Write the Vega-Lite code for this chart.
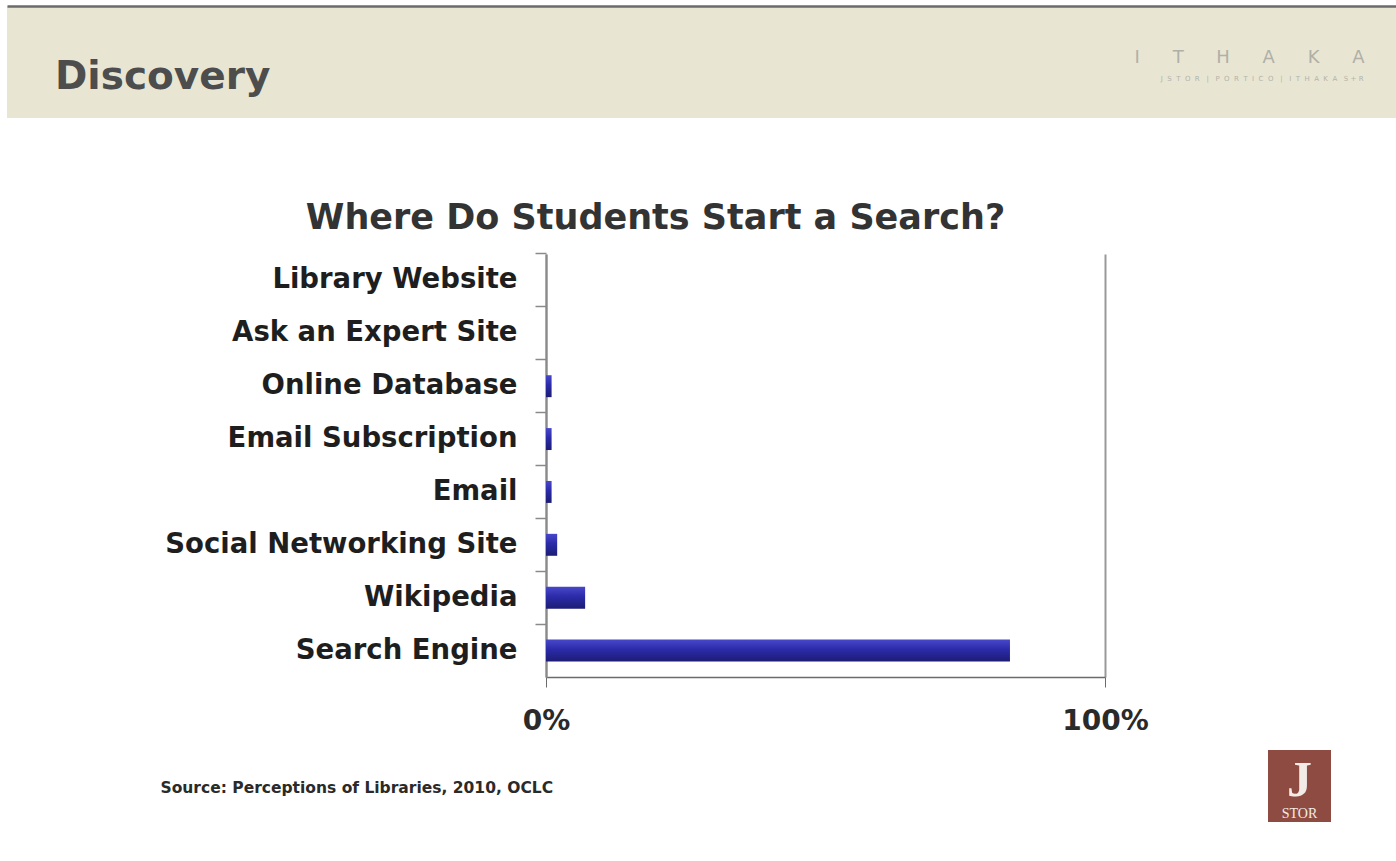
{
  "$schema": "https://vega.github.io/schema/vega-lite/v6.json",
  "padding": {"left": 7, "top": 6, "right": 0, "bottom": 0},
  "background": "white",
  "config": {"view": {"stroke": null}},
  "columns": 1,
  "align": "none",
  "spacing": 78,
  "concat": [
    {
      "width": 1389,
      "height": 112,
      "view": {"fill": "#e8e6d3", "stroke": null},
      "title": {"text": "Discovery", "anchor": "start", "frame": "group", "dx": 48, "offset": -122, "baseline": "alphabetic", "fontSize": 39, "font": "DejaVu Sans", "fontWeight": "bold", "color": "#4d4d4d"},
      "data": {"values": [{"t": ""}]},
      "mark": {"type": "text"},
      "encoding": {
        "text": {"field": "t"},
        "x": {"datum": 0, "type": "quantitative", "scale": {"domain": [0, 1]},
          "axis": {"orient": "top", "domain": true, "domainColor": "#6b6b6b", "domainWidth": 2.5, "ticks": false, "labels": false, "grid": false,
            "title": "I\u2003\u2002\u00a0T\u2003\u2002\u00a0H\u2003\u2002\u00a0A\u2003\u2002\u00a0K\u2003\u2002\u00a0A", "titleX": 1357, "titleY": 51, "titleAlign": "right", "titleBaseline": "middle", "titleFontSize": 18, "titleFont": "DejaVu Sans", "titleFontWeight": "normal", "titleColor": "#b0b0a8"}},
        "y": {"datum": 0, "type": "quantitative", "scale": {"domain": [0, 1]},
          "axis": {"orient": "right", "domain": false, "ticks": false, "labels": false, "grid": false,
            "title": "J\u00a0\u00a0S\u00a0\u00a0T\u00a0\u00a0O\u00a0\u00a0R\u00a0\u00a0\u00a0|\u00a0\u00a0\u00a0P\u00a0\u00a0O\u00a0\u00a0R\u00a0\u00a0T\u00a0\u00a0I\u00a0\u00a0C\u00a0\u00a0O\u00a0\u00a0\u00a0|\u00a0\u00a0\u00a0I\u00a0\u00a0T\u00a0\u00a0H\u00a0\u00a0A\u00a0\u00a0K\u00a0\u00a0A\u00a0\u00a0\u00a0S\u00a0+\u00a0R", "titleAngle": 0, "titleX": -33, "titleY": 72, "titleAlign": "right", "titleBaseline": "middle", "titleFontSize": 7, "titleFont": "DejaVu Sans", "titleFontWeight": "normal", "titleColor": "#b3b3aa"}}
      }
    },
    {
      "columns": 3,
      "align": "none",
      "spacing": 119,
      "concat": [
        {
          "width": 1,
          "height": 10,
          "data": {"values": []},
          "mark": "point"
        },
        {
          "width": 559,
          "height": 423,
          "title": {"text": "Where Do Students Start a Search?", "anchor": "middle", "frame": "group", "dx": -170, "offset": -12, "baseline": "alphabetic", "fontSize": 35, "font": "DejaVu Sans", "fontWeight": "bold", "color": "#333333"},
          "data": {"values": [
            {"source": "Library Website", "pct": 0},
            {"source": "Ask an Expert Site", "pct": 0},
            {"source": "Online Database", "pct": 1},
            {"source": "Email Subscription", "pct": 1},
            {"source": "Email", "pct": 1},
            {"source": "Social Networking Site", "pct": 2},
            {"source": "Wikipedia", "pct": 7},
            {"source": "Search Engine", "pct": 83}
          ]},
          "mark": {"type": "bar", "color": {"gradient": "linear", "x1": 0, "y1": 0, "x2": 0, "y2": 1, "stops": [{"offset": 0, "color": "#4747c9"}, {"offset": 0.45, "color": "#2b2baa"}, {"offset": 1, "color": "#1c1c74"}]}},
          "encoding": {
            "y": {"field": "source", "type": "nominal", "sort": ["Library Website", "Ask an Expert Site", "Online Database", "Email Subscription", "Email", "Social Networking Site", "Wikipedia", "Search Engine"],
              "scale": {"paddingInner": 0.585, "paddingOuter": 0.2925},
              "axis": {"title": null, "minExtent": 419, "labelLimit": 0, "bandPosition": -0.705, "domainColor": "#8a8a8a", "domainWidth": 2, "tickColor": "#8a8a8a", "tickWidth": 1.5, "tickSize": 11, "labelPadding": 18, "labelFont": "DejaVu Sans", "labelFontWeight": "bold", "labelFontSize": 27.5, "labelColor": "#1e1e1e"}},
            "x": {"field": "pct", "type": "quantitative", "scale": {"domain": [0, 100]},
              "axis": {"values": [0, 100], "labelExpr": "datum.value + '%'", "grid": true, "gridColor": "#9a9a9a", "gridWidth": 2, "domainColor": "#6b6b6b", "domainWidth": 1.5, "tickColor": "#6b6b6b", "tickSize": 10, "labelPadding": 20, "labelFont": "DejaVu Sans", "labelFontWeight": "bold", "labelFontSize": 28, "labelColor": "#2a2a2a", "labelFlush": false,
                "title": "Source: Perceptions of Libraries, 2010, OCLC", "titleX": -386, "titleY": 115, "titleAlign": "left", "titleBaseline": "alphabetic", "titleFont": "DejaVu Sans", "titleFontWeight": "bold", "titleFontSize": 15.5, "titleColor": "#2a2a2a"}}
          }
        },
        {
          "columns": 1,
          "align": "none",
          "spacing": 0,
          "concat": [
            {
              "width": 63,
              "height": 496,
              "data": {"values": []},
              "mark": "point"
            },
            {
              "width": 63,
              "height": 72,
              "view": {"fill": "#8e4b42", "stroke": null},
              "layer": [
                {
                  "data": {"values": [{"t": "J"}]},
                  "mark": {"type": "text", "font": "Liberation Serif", "fontSize": 50, "fontWeight": "bold", "color": "#f3ebe5", "baseline": "alphabetic"},
                  "encoding": {
                    "text": {"field": "t"},
                    "x": {"datum": 0, "type": "quantitative", "scale": {"domain": [-1, 1]}, "axis": null},
                    "y": {"datum": 0.36, "type": "quantitative", "scale": {"domain": [0, 1]}, "axis": null}
                  }
                },
                {
                  "data": {"values": [{"t": "STOR"}]},
                  "mark": {"type": "text", "font": "Liberation Serif", "fontSize": 14, "color": "#f3ebe5", "baseline": "alphabetic"},
                  "encoding": {
                    "text": {"field": "t"},
                    "x": {"datum": 0, "type": "quantitative"},
                    "y": {"datum": 0.06, "type": "quantitative"}
                  }
                }
              ]
            }
          ]
        }
      ]
    }
  ]
}
